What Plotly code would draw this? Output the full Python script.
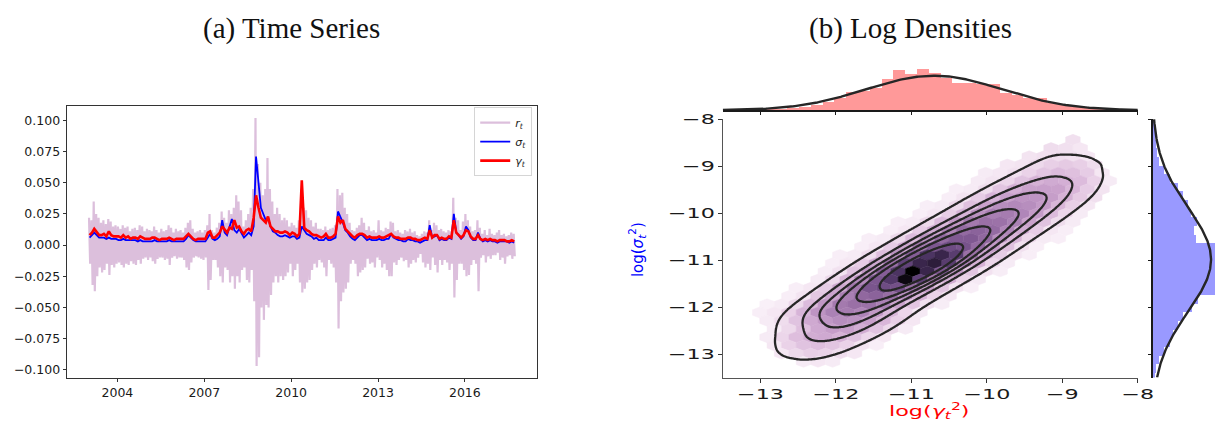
import numpy as np
import plotly.graph_objects as go
from plotly.colors import sample_colorscale

W, H = 1225, 422

# ---------------- (a) time series : monthly readings 2003-01 .. 2017-09 ----------------
R_HI = [
    0.022, 0.020, 0.035, 0.025, 0.022, 0.018, 0.020, 0.017, 0.021, 0.019, 0.015, 0.016,
    0.015, 0.013, 0.016, 0.014, 0.015, 0.011, 0.013, 0.014, 0.012, 0.016, 0.015, 0.011,
    0.013, 0.012, 0.011, 0.015, 0.012, 0.010, 0.013, 0.011, 0.012, 0.016, 0.014, 0.010,
    0.013, 0.011, 0.012, 0.010, 0.014, 0.018, 0.020, 0.013, 0.010, 0.011, 0.012, 0.010,
    0.012, 0.016, 0.025, 0.012, 0.010, 0.014, 0.018, 0.027, 0.022, 0.018, 0.028, 0.025,
    0.030, 0.040, 0.035, 0.028, 0.015, 0.020, 0.025, 0.030, 0.045, 0.102, 0.065, 0.050,
    0.040, 0.045, 0.070, 0.045, 0.035, 0.025, 0.030, 0.025, 0.020, 0.022, 0.020, 0.015,
    0.018, 0.016, 0.014, 0.020, 0.045, 0.030, 0.028, 0.022, 0.020, 0.015, 0.018, 0.013,
    0.013, 0.012, 0.015, 0.012, 0.013, 0.014, 0.016, 0.045, 0.040, 0.042, 0.030, 0.025,
    0.018, 0.012, 0.011, 0.014, 0.016, 0.022, 0.018, 0.012, 0.015, 0.011, 0.012, 0.010,
    0.020, 0.012, 0.011, 0.014, 0.013, 0.019, 0.018, 0.011, 0.012, 0.010, 0.009, 0.012,
    0.011, 0.013, 0.010, 0.011, 0.008, 0.007, 0.009, 0.011, 0.010, 0.020, 0.012, 0.018,
    0.016, 0.012, 0.013, 0.011, 0.010, 0.012, 0.011, 0.038, 0.022, 0.020, 0.012, 0.019,
    0.025, 0.020, 0.015, 0.011, 0.012, 0.020, 0.014, 0.009, 0.012, 0.008, 0.013, 0.009,
    0.008, 0.010, 0.012, 0.008, 0.009, 0.007, 0.008, 0.010, 0.009,
]
R_LO = [
    -0.015, -0.032, -0.037, -0.025, -0.018, -0.022, -0.020, -0.015, -0.024, -0.016, -0.018, -0.015,
    -0.014, -0.016, -0.018, -0.015, -0.016, -0.013, -0.015, -0.016, -0.012, -0.015, -0.011, -0.010,
    -0.012, -0.010, -0.013, -0.015, -0.011, -0.010, -0.010, -0.012, -0.011, -0.016, -0.010, -0.009,
    -0.011, -0.010, -0.010, -0.012, -0.018, -0.020, -0.014, -0.010, -0.009, -0.010, -0.011, -0.012,
    -0.010, -0.036, -0.028, -0.012, -0.012, -0.018, -0.025, -0.030, -0.018, -0.020, -0.030, -0.025,
    -0.035, -0.025, -0.030, -0.020, -0.018, -0.028, -0.030, -0.020, -0.045, -0.097, -0.090, -0.050,
    -0.060, -0.048, -0.050, -0.040, -0.030, -0.025, -0.030, -0.025, -0.028, -0.025, -0.022, -0.015,
    -0.025, -0.020, -0.015, -0.030, -0.038, -0.035, -0.030, -0.028, -0.020, -0.015, -0.018, -0.012,
    -0.014, -0.018, -0.025, -0.012, -0.015, -0.018, -0.030, -0.067, -0.045, -0.038, -0.035, -0.030,
    -0.015, -0.012, -0.015, -0.025, -0.022, -0.020, -0.018, -0.011, -0.015, -0.014, -0.018, -0.010,
    -0.012, -0.018, -0.015, -0.020, -0.025, -0.025, -0.014, -0.016, -0.012, -0.010, -0.013, -0.012,
    -0.018, -0.015, -0.012, -0.014, -0.010, -0.007, -0.014, -0.018, -0.015, -0.020, -0.010, -0.016,
    -0.022, -0.012, -0.016, -0.012, -0.014, -0.020, -0.015, -0.042, -0.028, -0.015, -0.015, -0.020,
    -0.025, -0.024, -0.016, -0.012, -0.015, -0.037, -0.010, -0.008, -0.014, -0.009, -0.011, -0.008,
    -0.008, -0.006, -0.012, -0.010, -0.015, -0.009, -0.008, -0.011, -0.009,
]
SIGMA = [
    0.006, 0.008, 0.010, 0.008, 0.006, 0.006, 0.006, 0.005, 0.006, 0.005, 0.005, 0.005,
    0.004, 0.004, 0.005, 0.004, 0.004, 0.004, 0.004, 0.004, 0.003, 0.004, 0.003, 0.003,
    0.003, 0.003, 0.003, 0.004, 0.003, 0.003, 0.003, 0.003, 0.003, 0.004, 0.003, 0.003,
    0.003, 0.003, 0.003, 0.003, 0.005, 0.008, 0.006, 0.004, 0.003, 0.003, 0.003, 0.003,
    0.003, 0.006, 0.009, 0.005, 0.004, 0.005, 0.007, 0.020, 0.010, 0.008, 0.014, 0.021,
    0.012, 0.010, 0.013, 0.009, 0.006, 0.008, 0.010, 0.008, 0.015, 0.071, 0.047, 0.030,
    0.025, 0.020, 0.022, 0.015, 0.011, 0.010, 0.008, 0.007, 0.007, 0.008, 0.007, 0.006,
    0.007, 0.007, 0.005, 0.006, 0.015, 0.012, 0.009, 0.008, 0.007, 0.005, 0.006, 0.004,
    0.004, 0.004, 0.006, 0.004, 0.004, 0.005, 0.006, 0.027, 0.023, 0.018, 0.012, 0.010,
    0.007, 0.005, 0.004, 0.006, 0.008, 0.008, 0.006, 0.004, 0.005, 0.004, 0.004, 0.004,
    0.005, 0.004, 0.004, 0.005, 0.005, 0.009, 0.006, 0.005, 0.004, 0.004, 0.003, 0.003,
    0.005, 0.004, 0.004, 0.003, 0.003, 0.002, 0.003, 0.004, 0.004, 0.016, 0.006, 0.007,
    0.008, 0.004, 0.005, 0.004, 0.004, 0.006, 0.005, 0.025, 0.010, 0.008, 0.005, 0.007,
    0.015, 0.012, 0.006, 0.004, 0.004, 0.010, 0.005, 0.003, 0.004, 0.003, 0.004, 0.003,
    0.003, 0.002, 0.003, 0.003, 0.003, 0.003, 0.002, 0.003, 0.002,
]
GAMMA = [
    0.008, 0.010, 0.013, 0.010, 0.008, 0.008, 0.009, 0.007, 0.011, 0.008, 0.007, 0.007,
    0.007, 0.006, 0.008, 0.006, 0.007, 0.005, 0.006, 0.006, 0.005, 0.007, 0.006, 0.005,
    0.005, 0.005, 0.006, 0.006, 0.005, 0.004, 0.005, 0.005, 0.005, 0.006, 0.005, 0.004,
    0.005, 0.005, 0.005, 0.005, 0.007, 0.009, 0.007, 0.005, 0.004, 0.005, 0.005, 0.005,
    0.005, 0.010, 0.011, 0.006, 0.006, 0.008, 0.010, 0.015, 0.012, 0.010, 0.014, 0.013,
    0.020, 0.014, 0.015, 0.011, 0.009, 0.012, 0.013, 0.011, 0.022, 0.040, 0.030, 0.022,
    0.020, 0.018, 0.023, 0.015, 0.013, 0.011, 0.011, 0.010, 0.010, 0.011, 0.010, 0.008,
    0.010, 0.009, 0.007, 0.009, 0.052, 0.014, 0.012, 0.011, 0.009, 0.008, 0.008, 0.007,
    0.006, 0.007, 0.009, 0.006, 0.006, 0.007, 0.009, 0.023, 0.018, 0.020, 0.013, 0.011,
    0.009, 0.007, 0.006, 0.008, 0.009, 0.009, 0.008, 0.006, 0.007, 0.006, 0.006, 0.006,
    0.007, 0.006, 0.006, 0.007, 0.008, 0.009, 0.007, 0.006, 0.006, 0.005, 0.005, 0.005,
    0.006, 0.006, 0.005, 0.005, 0.004, 0.004, 0.005, 0.006, 0.005, 0.012, 0.006, 0.008,
    0.008, 0.005, 0.006, 0.005, 0.005, 0.007, 0.006, 0.020, 0.010, 0.008, 0.006, 0.008,
    0.012, 0.011, 0.007, 0.005, 0.005, 0.008, 0.005, 0.004, 0.005, 0.004, 0.005, 0.004,
    0.004, 0.003, 0.004, 0.004, 0.004, 0.003, 0.003, 0.004, 0.003,
]
Y_TICKS_A = [-0.100, -0.075, -0.050, -0.025, 0.000, 0.025, 0.050, 0.075, 0.100]
X_TICK_YEARS_A = ["2004", "2007", "2010", "2013", "2016"]

# ---------------- (b) log densities ----------------
HEX_SX = 0.193
HEX_SY = 0.35
HEX_X0 = -13.106
HEX_Y0 = -8.44
HEX_ROW_START = [22, 20, 19, 17, 16, 15, 14, 13, 12, 11, 10, 9, 8, 7, 6, 5, 5, 4, 3, 2, 1, 0, 1, 1, 1, 1, 2, 3]
HEX_ROW_COUNTS = [
    [0.5],
    [0.6, 0.5, 0.3],
    [0.4, 0.5, 0.6, 0.5, 0.3],
    [0.3, 0.4, 0.7, 1.0, 1.2, 1.0, 0.6],
    [0.2, 0.3, 0.5, 0.9, 1.4, 1.8, 1.6, 1.1, 0.3],
    [0.2, 0.4, 0.8, 1.5, 2.2, 2.5, 2.3, 1.8, 0.9, 0.2],
    [0.1, 0.2, 0.6, 1.4, 2.3, 2.9, 3.0, 2.9, 2.0, 1.1, 0.4],
    [0.1, 0.4, 1.1, 2.1, 3.0, 3.5, 3.5, 3.1, 2.2, 1.2, 0.5],
    [0.1, 0.2, 0.7, 1.6, 2.9, 3.8, 4.0, 3.8, 3.2, 2.0, 1.0, 0.3],
    [0.1, 0.3, 1.0, 2.1, 3.6, 4.4, 4.5, 4.1, 3.2, 1.8, 0.8, 0.2],
    [0.1, 0.2, 0.7, 1.8, 3.3, 4.6, 5.0, 4.9, 4.3, 2.9, 1.5, 0.6, 0.2],
    [0.1, 0.3, 1.1, 2.5, 4.1, 5.2, 5.5, 5.2, 4.1, 2.5, 1.1, 0.3, 0.1],
    [0.1, 0.2, 0.7, 1.8, 3.6, 5.2, 5.9, 5.9, 5.3, 3.8, 2.0, 0.8, 0.2, 0.1],
    [0.1, 0.3, 1.1, 2.7, 4.7, 6.0, 6.5, 6.2, 5.2, 3.3, 1.6, 0.5, 0.1],
    [0.1, 0.2, 0.6, 1.7, 3.6, 5.7, 7.6, 8.2, 7.2, 5.0, 2.8, 1.1, 0.35, 0.1],
    [0.1, 0.3, 1.1, 2.6, 4.9, 6.9, 8.2, 8.6, 7.2, 4.4, 2.2, 0.8, 0.2],
    [0.15, 0.45, 1.5, 3.4, 5.7, 7.6, 10.0, 8.2, 6.0, 3.3, 1.4, 0.45, 0.15],
    [0.2, 0.7, 2.0, 4.0, 6.0, 7.4, 9.6, 7.0, 4.6, 2.4, 0.9, 0.25],
    [0.1, 0.3, 1.1, 2.7, 4.7, 6.1, 6.5, 6.3, 5.1, 3.1, 1.4, 0.45, 0.1],
    [0.1, 0.4, 1.3, 2.8, 4.4, 5.3, 5.5, 5.1, 3.7, 2.1, 0.9, 0.3],
    [0.05, 0.2, 0.7, 1.8, 3.4, 4.6, 5.0, 4.9, 4.3, 2.8, 1.4, 0.5, 0.15],
    [0.1, 0.3, 0.9, 2.1, 3.5, 4.3, 4.5, 4.2, 3.3, 1.9, 0.8, 0.25],
    [0.2, 0.6, 1.5, 2.6, 3.4, 3.8, 3.6, 3.0, 2.0, 1.0, 0.3],
    [0.2, 0.7, 1.6, 2.6, 3.1, 3.0, 2.4, 1.5, 0.7, 0.2],
    [0.2, 0.8, 1.7, 2.4, 2.6, 2.2, 1.5, 0.8, 0.3],
    [0.3, 0.9, 1.5, 1.7, 1.4, 0.9, 0.4, 0.1],
    [0.3, 0.7, 1.0, 0.9, 0.6, 0.3],
    [0.2, 0.3, 0.2],
]
TOP_BIN_START = -13.12
TOP_BIN_WIDTH = 0.1565
TOP_COUNTS = [1, 3, 4, 8, 12, 18, 28, 38, 58, 62, 72, 100, 128, 115, 130, 118, 104, 86, 86, 83,
              83, 55, 48, 38, 38, 23, 18, 12, 8, 5, 3, 1]
RIGHT_BIN_TOP = -8.07
RIGHT_BIN_WIDTH = 0.184
RIGHT_COUNTS = [4, 6, 9, 12, 20, 34, 54, 78, 94, 110, 120, 138, 130, 135, 200, 205, 215, 210, 205, 195,
                141, 124, 94, 79, 64, 54, 34, 19, 9, 4]
TOP_FIT = (-10.70, 0.90)
RIGHT_FIT = (-10.99, 1.11)
JOINT_TICKS = [-13, -12, -11, -10, -9, -8]
KDE_BW = 0.254
KDE_THRESH = 0.05
KDE_LEVELS = 7

HEX_COLORS = [[0.0, "#faf2f9"], [0.05, "#f1e0ef"], [0.1, "#e8cfe6"], [0.2, "#d9b6d9"], [0.3, "#c8a0cb"],
              [0.4, "#b389bb"], [0.5, "#9a70a6"], [0.6, "#7d5790"], [0.7, "#5f4176"], [0.8, "#402b55"],
              [0.9, "#20132a"], [1.0, "#000000"]]

def fx(X):
    return X / W

def fy(Y):
    return 1 - Y / H

FONT = "DejaVu Sans"
fig = go.Figure()

# ---- (a)
n = len(R_HI)
r_x, r_y, s_x = [], [], []
for m in range(n):
    yr, mo = 2003 + m // 12, m % 12 + 1
    r_x += [f"{yr}-{mo:02d}-08", f"{yr}-{mo:02d}-22"]
    r_y += [R_HI[m], R_LO[m]]
    s_x.append(f"{yr}-{mo:02d}-15")

fig.add_trace(go.Scatter(x=r_x, y=r_y, mode="lines", line=dict(color="#dcbfdc", width=2.2),
                         name="<i>r</i><sub><i>t</i></sub>", xaxis="x", yaxis="y"))
fig.add_trace(go.Scatter(x=s_x, y=SIGMA, mode="lines", line=dict(color="#0000ff", width=1.8),
                         name="<i>σ</i><sub><i>t</i></sub>", xaxis="x", yaxis="y"))
fig.add_trace(go.Scatter(x=s_x, y=GAMMA, mode="lines", line=dict(color="#ff0000", width=2.6),
                         name="<i>γ</i><sub><i>t</i></sub>", xaxis="x", yaxis="y"))

# ---- (b) hexbin
hx, hy, hc = [], [], []
for k, (st, row) in enumerate(zip(HEX_ROW_START, HEX_ROW_COUNTS)):
    off = (k % 2) * HEX_SX / 2
    for j, c in enumerate(row):
        if c > 0:
            hx.append(HEX_X0 + (st + j) * HEX_SX + off)
            hy.append(HEX_Y0 - k * HEX_SY / 2)
            hc.append(c)
hx, hy, hc = np.array(hx), np.array(hy), np.array(hc, float)
cols = sample_colorscale(HEX_COLORS, list(hc / hc.max()))
ddx = np.array([0.5, 0.5, 0, -0.5, -0.5, 0, 0.5]) * HEX_SX
ddy = np.array([-1 / 6, 1 / 6, 1 / 3, 1 / 6, -1 / 6, -1 / 3, -1 / 6]) * HEX_SY
for x0, y0, col in zip(hx, hy, cols):
    fig.add_trace(go.Scatter(x=x0 + ddx, y=y0 + ddy, fill="toself", fillcolor=col, mode="lines",
                             line=dict(color=col, width=0.5), hoverinfo="skip", showlegend=False,
                             xaxis="x2", yaxis="y2"))

# ---- (b) KDE from the hex data, contours at iso-proportions of mass (overlay subplot -> above hexes)
wts = hc / hc.sum()
cov = np.cov(np.vstack([hx, hy]), aweights=wts) * KDE_BW ** 2
icov = np.linalg.inv(cov)
gx = np.linspace(-13.5, -8, 241)
gy = np.linspace(-13.5, -8, 241)
GX, GY = np.meshgrid(gx, gy)
Z = np.zeros_like(GX)
for x0, y0, w in zip(hx, hy, wts):
    dx, dy = GX - x0, GY - y0
    Z += w * np.exp(-0.5 * (icov[0, 0] * dx * dx + 2 * icov[0, 1] * dx * dy + icov[1, 1] * dy * dy))
flat = Z.ravel()
order = np.argsort(flat)
cum = np.cumsum(flat[order])
cum /= cum[-1]
M = np.empty_like(flat)
M[order] = cum
M = M.reshape(Z.shape)
lv_step = (1 - KDE_THRESH) / (KDE_LEVELS - 1)
fig.add_trace(go.Contour(x=gx, y=gy, z=M, xaxis="x5", yaxis="y5", showscale=False, hoverinfo="skip",
                         contours=dict(coloring="lines", start=KDE_THRESH,
                                       end=KDE_THRESH + (KDE_LEVELS - 2) * lv_step + 1e-9, size=lv_step),
                         colorscale=[[0, "#262626"], [1, "#262626"]], line=dict(width=2.3, smoothing=1.0)))

# ---- marginals
cx = np.linspace(-13.5, -8, 300)
tc = np.array(TOP_COUNTS, float)
t_cent = TOP_BIN_START + (np.arange(len(tc)) + 0.5) * TOP_BIN_WIDTH
t_den = tc / (tc.sum() * TOP_BIN_WIDTH)
fig.add_trace(go.Bar(x=t_cent, y=t_den, width=TOP_BIN_WIDTH, marker=dict(color="#ff9999", line=dict(width=0)),
                     xaxis="x3", yaxis="y3", showlegend=False, hoverinfo="skip"))
t_pdf = np.exp(-0.5 * ((cx - TOP_FIT[0]) / TOP_FIT[1]) ** 2) / (TOP_FIT[1] * np.sqrt(2 * np.pi))
fig.add_trace(go.Scatter(x=cx, y=t_pdf, mode="lines", line=dict(color="#262626", width=2.4),
                         xaxis="x3", yaxis="y3", showlegend=False, hoverinfo="skip"))

rc = np.array(RIGHT_COUNTS, float)
r_cent = RIGHT_BIN_TOP - (np.arange(len(rc)) + 0.5) * RIGHT_BIN_WIDTH
r_den = rc / (rc.sum() * RIGHT_BIN_WIDTH)
fig.add_trace(go.Bar(y=r_cent, x=r_den, width=RIGHT_BIN_WIDTH, orientation="h",
                     marker=dict(color="#9999ff", line=dict(width=0)),
                     xaxis="x4", yaxis="y4", showlegend=False, hoverinfo="skip"))
r_pdf = np.exp(-0.5 * ((cx - RIGHT_FIT[0]) / RIGHT_FIT[1]) ** 2) / (RIGHT_FIT[1] * np.sqrt(2 * np.pi))
fig.add_trace(go.Scatter(y=cx, x=r_pdf, mode="lines", line=dict(color="#262626", width=2.4),
                         xaxis="x4", yaxis="y4", showlegend=False, hoverinfo="skip"))

# ---------------- layout ----------------
tick_a = dict(family=FONT, size=12.5, color="#1a1a1a")
tick_b = dict(family=FONT, size=14, color="#1a1a1a")
frame = dict(showline=True, linecolor="#333333", linewidth=1, mirror=True, showgrid=False, zeroline=False,
             ticks="outside", ticklen=3.5, tickwidth=0.9, tickcolor="#333333")
main_y_dom = [fy(376.7), fy(113.3)]
joint_x_dom = [fx(728.7), fx(1147.2)]

fig.update_layout(
    width=W, height=H, margin=dict(l=0, r=0, t=0, b=0),
    paper_bgcolor="white", plot_bgcolor="white", barmode="overlay", bargap=0,
    xaxis=dict(domain=[fx(67.7), fx(541)], anchor="y", type="date",
               range=["2002-04-07", "2018-06-24"],
               tickvals=[f"{y}-01-01" for y in X_TICK_YEARS_A], ticktext=X_TICK_YEARS_A,
               tickfont=tick_a, **frame),
    yaxis=dict(domain=[fy(376.7), fy(99.7)], anchor="x", range=[-0.1063, 0.1118],
               tickvals=Y_TICKS_A, tickformat=".3f", tickfont=tick_a, **frame),
    xaxis2=dict(domain=joint_x_dom, anchor="y2", range=[-13.5, -8], tickvals=JOINT_TICKS, tickformat="d",
                showline=True, linecolor="#555555", linewidth=1.2, mirror=False, showgrid=False, zeroline=False,
                ticks="outside", ticklen=4, tickcolor="#333333", tickfont=tick_b),
    yaxis2=dict(domain=main_y_dom, anchor="x2", range=[-13.5, -8], tickvals=JOINT_TICKS, tickformat="d",
                showline=True, linecolor="#555555", linewidth=1.2, mirror=False, showgrid=False, zeroline=False,
                ticks="outside", ticklen=4, tickcolor="#333333", tickfont=tick_b),
    xaxis5=dict(overlaying="x2", anchor="y5", range=[-13.5, -8], visible=False),
    yaxis5=dict(overlaying="y2", anchor="x5", range=[-13.5, -8], visible=False),
    xaxis3=dict(domain=joint_x_dom, anchor="y3", range=[-13.5, -8], tickvals=JOINT_TICKS, showticklabels=False,
                showline=True, linecolor="#1a1a1a", linewidth=1.6, showgrid=False, zeroline=False,
                ticks="outside", ticklen=3, tickcolor="#1a1a1a"),
    yaxis3=dict(domain=[fy(104.3), fy(57)], anchor="x3", visible=False,
                range=[0, t_pdf.max() * 47.3 / 35.3]),
    xaxis4=dict(domain=[fx(1162), 1.0], anchor="y4", visible=False,
                range=[0, r_pdf.max() * 63 / 59]),
    yaxis4=dict(domain=main_y_dom, anchor="x4", range=[-13.5, -8], tickvals=JOINT_TICKS, showticklabels=False,
                showline=True, linecolor="#1a1a1a", linewidth=1.6, showgrid=False, zeroline=False,
                ticks="outside", ticklen=3, tickcolor="#1a1a1a"),
    legend=dict(x=fx(536.6), y=fy(101), xanchor="right", yanchor="top", bgcolor="rgba(255,255,255,0.85)",
                bordercolor="#d5d5d5", borderwidth=1, font=dict(family=FONT, size=11, color="#1a1a1a"),
                itemwidth=30, tracegroupgap=0),
    annotations=[
        dict(text="(a) Time Series", x=fx(294), y=fy(21), xref="paper", yref="paper", showarrow=False,
             font=dict(family="Liberation Serif", size=29, color="#111111"), xanchor="center", yanchor="middle"),
        dict(text="(b) Log Densities", x=fx(918), y=fy(21), xref="paper", yref="paper", showarrow=False,
             font=dict(family="Liberation Serif", size=29, color="#111111"), xanchor="center", yanchor="middle"),
        dict(text="log(<i>γ</i><sub><i>t</i></sub><sup>2</sup>)", x=fx(937), y=fy(411), xref="paper", yref="paper",
             showarrow=False, font=dict(family=FONT, size=14, color="#ff0000"), xanchor="center", yanchor="middle"),
        dict(text="log(<i>σ</i><sub><i>t</i></sub><sup>2</sup>)", x=fx(642), y=fy(246), xref="paper", yref="paper",
             showarrow=False, textangle=-90, font=dict(family=FONT, size=15, color="#0000ff"),
             xanchor="center", yanchor="middle"),
    ],
)

POST_JS = """
var gd = document.getElementById('{plot_id}');
document.documentElement.style.margin = '0';
document.body.style.margin = '0';
document.body.style.padding = '0';
document.body.style.overflow = 'hidden';
gd.style.position = 'absolute';
gd.style.left = '0px';
gd.style.top = '0px';
function stretch(list, s) {
  list.forEach(function (t) {
    var x = parseFloat(t.getAttribute('x')) || 0;
    var tr = t.getAttribute('transform') || '';
    t.setAttribute('transform', tr + ' translate(' + x + ',0) scale(' + s + ',1) translate(' + (-x) + ',0)');
  });
}
stretch(gd.querySelectorAll('.x2tick text, .y2tick text'), 1.59);
stretch(gd.querySelectorAll('.annotation[data-index="2"] text'), 1.59);
"""

fig.write_html("out.html", post_script=POST_JS, config={"displayModeBar": False})
